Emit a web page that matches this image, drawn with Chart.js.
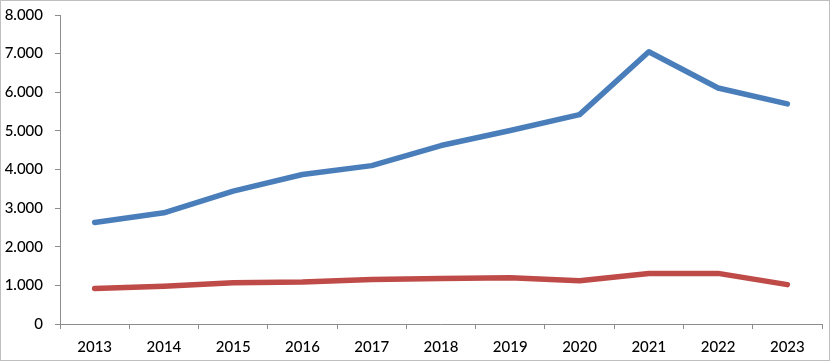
<!DOCTYPE html>
<html>
<head>
<meta charset="utf-8">
<script src="https://cdn.jsdelivr.net/npm/chart.js@4"></script>
<style>
  html, body { margin: 0; padding: 0; background: #fff; }
  #wrap { width: 830px; height: 361px; position: relative; }
</style>
</head>
<body>
<div id="wrap"><canvas id="chart"></canvas></div>
<script>
  const years = ['2013', '2014', '2015', '2016', '2017', '2018', '2019', '2020', '2021', '2022', '2023'];
  const blueSeries = [2630, 2880, 3440, 3870, 4100, 4620, 5010, 5420, 7050, 6110, 5700];
  const redSeries = [920, 980, 1070, 1090, 1150, 1180, 1200, 1120, 1310, 1310, 1020];

  // thin grey frame around the whole picture
  const framePlugin = {
    id: 'frame',
    afterDraw(chart) {
      const ctx = chart.ctx;
      ctx.save();
      ctx.strokeStyle = '#bfbfbf';
      ctx.lineWidth = 1;
      ctx.strokeRect(0.5, 0.5, chart.width - 1, chart.height - 1);
      ctx.restore();
    }
  };

  const axisColor = '#8c8c8c';
  const tickFont = { family: 'Lato', size: 15, weight: '500' };

  new Chart(document.getElementById('chart'), {
    type: 'line',
    data: {
      labels: years,
      datasets: [
        {
          label: 'A',
          data: blueSeries,
          borderColor: '#4a7ebb',
          borderWidth: 5.5,
          borderCapStyle: 'round',
          borderJoinStyle: 'round',
          pointRadius: 0,
          tension: 0,
        },
        {
          label: 'B',
          data: redSeries,
          borderColor: '#be4b48',
          borderWidth: 5.5,
          borderCapStyle: 'round',
          borderJoinStyle: 'round',
          pointRadius: 0,
          tension: 0,
        }
      ]
    },
    options: {
      animation: false,
      responsive: true,
      maintainAspectRatio: false,
      layout: { padding: { top: 15, right: 8, left: 0, bottom: 0 } },
      plugins: {
        legend: { display: false },
        tooltip: { enabled: false }
      },
      scales: {
        x: {
          offset: true,
          grid: {
            offset: true,
            drawOnChartArea: false,
            tickLength: 5,
            color: axisColor
          },
          border: { color: axisColor },
          ticks: {
            color: '#000',
            padding: 9,
            maxRotation: 0,
            font: tickFont
          },
          afterFit(scale) {
            scale.height = 37;
            scale.paddingLeft = 0;
            scale.paddingRight = 0;
          }
        },
        y: {
          min: 0,
          max: 8000,
          grid: {
            drawOnChartArea: false,
            tickLength: 5,
            color: axisColor
          },
          border: { color: axisColor },
          ticks: {
            stepSize: 1000,
            color: '#000',
            padding: 12,
            font: tickFont,
            callback: v => v === 0 ? '0' : v.toLocaleString('de-DE')
          },
          afterFit(scale) {
            scale.width = 60;
            scale.paddingTop = 0;
            scale.paddingBottom = 0;
          }
        }
      }
    },
    plugins: [framePlugin]
  });
</script>
</body>
</html>
